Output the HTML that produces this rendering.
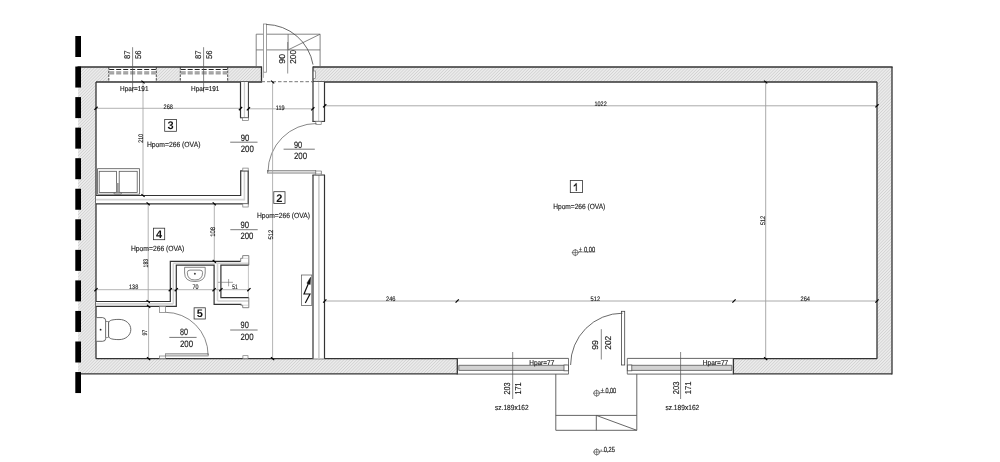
<!DOCTYPE html>
<html><head><meta charset="utf-8"><style>
html,body{margin:0;padding:0;background:#fff;width:1000px;height:462px;overflow:hidden}
svg{display:block;filter:grayscale(1)}
text{font-family:"Liberation Sans",sans-serif;text-rendering:geometricPrecision}
</style></head><body>
<svg width="1000" height="462" viewBox="0 0 1000 462">
<defs>
<pattern id="hatch" width="2.2" height="2.2" patternUnits="userSpaceOnUse" patternTransform="rotate(45)">
<rect width="2.2" height="2.2" fill="#ebebeb"/>
<line x1="0" y1="0" x2="0" y2="2.2" stroke="#bdbdbd" stroke-width="0.8"/>
</pattern>
</defs>
<rect width="1000" height="462" fill="#fff"/>
<rect x="78" y="67" width="183.5" height="15" fill="url(#hatch)"/>
<rect x="313" y="67" width="579" height="15" fill="url(#hatch)"/>
<rect x="78" y="67" width="18" height="306.8" fill="url(#hatch)"/>
<rect x="877" y="67" width="15" height="306.8" fill="url(#hatch)"/>
<rect x="78" y="358.7" width="379.3" height="15.1" fill="url(#hatch)"/>
<rect x="733.4" y="358.7" width="158.6" height="15.1" fill="url(#hatch)"/>
<rect x="108.8" y="67.6" width="47.5" height="13.8" fill="#fff"/>
<line x1="108.8" y1="67" x2="108.8" y2="82" stroke="#333" stroke-width="0.9" stroke-dasharray="2.5 1.2"/>
<line x1="156.3" y1="67" x2="156.3" y2="82" stroke="#333" stroke-width="0.9" stroke-dasharray="2.5 1.2"/>
<line x1="109.2" y1="69.5" x2="155.9" y2="69.5" stroke="#222" stroke-width="1.0" stroke-dasharray="5 2"/>
<line x1="109.2" y1="72.9" x2="155.9" y2="72.9" stroke="#b0b0b0" stroke-width="2.4" stroke-dasharray="5 2"/>
<line x1="109.2" y1="71.7" x2="155.9" y2="71.7" stroke="#777" stroke-width="0.6" stroke-dasharray="5 2"/>
<line x1="109.2" y1="74.1" x2="155.9" y2="74.1" stroke="#777" stroke-width="0.6" stroke-dasharray="5 2"/>
<rect x="180.3" y="67.6" width="47.4" height="13.8" fill="#fff"/>
<line x1="180.3" y1="67" x2="180.3" y2="82" stroke="#333" stroke-width="0.9" stroke-dasharray="2.5 1.2"/>
<line x1="227.7" y1="67" x2="227.7" y2="82" stroke="#333" stroke-width="0.9" stroke-dasharray="2.5 1.2"/>
<line x1="180.70000000000002" y1="69.5" x2="227.29999999999998" y2="69.5" stroke="#222" stroke-width="1.0" stroke-dasharray="5 2"/>
<line x1="180.70000000000002" y1="72.9" x2="227.29999999999998" y2="72.9" stroke="#b0b0b0" stroke-width="2.4" stroke-dasharray="5 2"/>
<line x1="180.70000000000002" y1="71.7" x2="227.29999999999998" y2="71.7" stroke="#777" stroke-width="0.6" stroke-dasharray="5 2"/>
<line x1="180.70000000000002" y1="74.1" x2="227.29999999999998" y2="74.1" stroke="#777" stroke-width="0.6" stroke-dasharray="5 2"/>
<line x1="77.5" y1="67" x2="261.5" y2="67" stroke="#333" stroke-width="1.3" />
<line x1="96" y1="82" x2="261.5" y2="82" stroke="#333" stroke-width="1.3" />
<line x1="261.5" y1="66.4" x2="261.5" y2="82.6" stroke="#333" stroke-width="1.3" />
<line x1="313" y1="67" x2="892.6" y2="67" stroke="#333" stroke-width="1.3" />
<line x1="313" y1="82" x2="877" y2="82" stroke="#333" stroke-width="1.3" />
<line x1="313" y1="66.4" x2="313" y2="82.6" stroke="#333" stroke-width="1.3" />
<line x1="96" y1="82" x2="96" y2="358.7" stroke="#333" stroke-width="1.3" />
<line x1="892" y1="67" x2="892" y2="374.4" stroke="#333" stroke-width="1.3" />
<line x1="877" y1="82" x2="877" y2="358.7" stroke="#333" stroke-width="1.3" />
<line x1="96" y1="358.7" x2="457.3" y2="358.7" stroke="#333" stroke-width="1.3" />
<line x1="81" y1="373.8" x2="457.3" y2="373.8" stroke="#333" stroke-width="1.3" />
<line x1="457.3" y1="358.1" x2="457.3" y2="374.4" stroke="#333" stroke-width="1.3" />
<line x1="733.4" y1="358.7" x2="877" y2="358.7" stroke="#333" stroke-width="1.3" />
<line x1="733.4" y1="373.8" x2="892" y2="373.8" stroke="#333" stroke-width="1.3" />
<line x1="733.4" y1="358.1" x2="733.4" y2="374.4" stroke="#333" stroke-width="1.3" />
<rect x="75.3" y="36.0" width="5.7" height="21.0" fill="#000"/>
<rect x="75.3" y="66.55" width="5.7" height="21.0" fill="#000"/>
<rect x="75.3" y="97.1" width="5.7" height="21.0" fill="#000"/>
<rect x="75.3" y="127.65" width="5.7" height="21.0" fill="#000"/>
<rect x="75.3" y="158.2" width="5.7" height="21.0" fill="#000"/>
<rect x="75.3" y="188.75" width="5.7" height="21.0" fill="#000"/>
<rect x="75.3" y="219.3" width="5.7" height="21.0" fill="#000"/>
<rect x="75.3" y="249.85" width="5.7" height="21.0" fill="#000"/>
<rect x="75.3" y="280.4" width="5.7" height="21.0" fill="#000"/>
<rect x="75.3" y="310.95" width="5.7" height="21.0" fill="#000"/>
<rect x="75.3" y="341.5" width="5.7" height="21.0" fill="#000"/>
<rect x="75.3" y="372.05" width="5.7" height="21.0" fill="#000"/>
<line x1="457.3" y1="358.4" x2="568.5" y2="358.4" stroke="#555" stroke-width="0.9" />
<line x1="457.3" y1="374.1" x2="568.5" y2="374.1" stroke="#555" stroke-width="0.9" />
<rect x="458.8" y="365.3" width="108.2" height="5.1" fill="#d2d2d2"/>
<line x1="458.8" y1="365.3" x2="567.0" y2="365.3" stroke="#555" stroke-width="0.8" />
<line x1="458.8" y1="370.4" x2="567.0" y2="370.4" stroke="#555" stroke-width="0.8" />
<rect x="564.0" y="365" width="4.5" height="5.8" fill="#fff" stroke="#555" stroke-width="0.8" />
<line x1="458.8" y1="365.3" x2="458.8" y2="370.4" stroke="#555" stroke-width="0.8" />
<line x1="568.5" y1="358.4" x2="568.5" y2="374.1" stroke="#555" stroke-width="0.8" />
<line x1="627.3" y1="358.4" x2="733.4" y2="358.4" stroke="#555" stroke-width="0.9" />
<line x1="627.3" y1="374.1" x2="733.4" y2="374.1" stroke="#555" stroke-width="0.9" />
<rect x="628.8" y="365.3" width="103.1" height="5.1" fill="#d2d2d2"/>
<line x1="628.8" y1="365.3" x2="731.9" y2="365.3" stroke="#555" stroke-width="0.8" />
<line x1="628.8" y1="370.4" x2="731.9" y2="370.4" stroke="#555" stroke-width="0.8" />
<rect x="627.3" y="365" width="4.5" height="5.8" fill="#fff" stroke="#555" stroke-width="0.8" />
<line x1="731.9" y1="365.3" x2="731.9" y2="370.4" stroke="#555" stroke-width="0.8" />
<line x1="627.3" y1="358.4" x2="627.3" y2="374.1" stroke="#555" stroke-width="0.8" />
<rect x="621.4" y="311.3" width="3.3" height="53.7" fill="#fff" stroke="#444" stroke-width="0.8" />
<path d="M 622.5 313.2 A 52 52 0 0 0 570.6 365" stroke="#444" stroke-width="0.8" fill="none" />
<line x1="555.8" y1="374.1" x2="555.8" y2="430.3" stroke="#555" stroke-width="0.9" />
<line x1="636.8" y1="374.1" x2="636.8" y2="430.3" stroke="#555" stroke-width="0.9" />
<line x1="555.8" y1="415.4" x2="636.8" y2="415.4" stroke="#555" stroke-width="0.9" />
<line x1="555.8" y1="430.3" x2="636.8" y2="430.3" stroke="#555" stroke-width="0.9" />
<line x1="596.3" y1="415.4" x2="596.3" y2="430.3" stroke="#555" stroke-width="0.9" />
<line x1="596.3" y1="415.4" x2="636.8" y2="430.3" stroke="#555" stroke-width="0.9" />
<path d="M 256.2 66.4 L 256.2 34.2 L 320.1 34.2 L 320.1 66.4" stroke="#666" stroke-width="0.8" fill="none" />
<line x1="256.2" y1="49.9" x2="320.1" y2="49.9" stroke="#666" stroke-width="0.8" />
<line x1="288.1" y1="34.2" x2="288.1" y2="49.9" stroke="#666" stroke-width="0.8" />
<line x1="288.1" y1="49.9" x2="320.1" y2="34.2" stroke="#666" stroke-width="0.8" />
<rect x="263.2" y="24" width="3.4" height="48.5" fill="#fff"/>
<rect x="263.4" y="24" width="3.0" height="48.2" fill="none" stroke="#888" stroke-width="0.8" />
<line x1="263.4" y1="72.2" x2="263.4" y2="77.8" stroke="#999" stroke-width="0.8" />
<path d="M 266.2 24.4 A 48.5 48.5 0 0 1 313 64.6" stroke="#444" stroke-width="0.8" fill="none" />
<line x1="261.5" y1="81.7" x2="313" y2="81.7" stroke="#777" stroke-width="1.0" stroke-dasharray="3.5 2"/>
<rect x="313.3" y="71" width="2.4" height="7.3" fill="#fff" stroke="#666" stroke-width="0.6" />
<line x1="287.7" y1="42" x2="287.7" y2="73.5" stroke="#666" stroke-width="0.7" />
<rect x="240.5" y="82" width="7.9" height="35.8" fill="#fff"/>
<line x1="244.45" y1="82" x2="244.45" y2="117.8" stroke="#cdcdcd" stroke-width="1.3" />
<line x1="240.5" y1="82" x2="240.5" y2="117.8" stroke="#333" stroke-width="1.2" />
<line x1="248.4" y1="82" x2="248.4" y2="117.8" stroke="#333" stroke-width="1.0" />
<line x1="240.0" y1="117.8" x2="248.9" y2="117.8" stroke="#333" stroke-width="1.0" />
<rect x="242.5" y="117.8" width="5.9" height="2.8" fill="#fff" stroke="#777" stroke-width="0.7" />
<rect x="96" y="195.5" width="152.2" height="8.3" fill="#fff"/>
<rect x="240.7" y="170.8" width="7.5" height="33.0" fill="#fff"/>
<line x1="96" y1="199.6" x2="244.4" y2="199.6" stroke="#d4d4d4" stroke-width="1.6" />
<line x1="244.4" y1="170.8" x2="244.4" y2="200.4" stroke="#d4d4d4" stroke-width="1.6" />
<path d="M 96 195.5 L 240.7 195.5 L 240.7 170.8 L 248.2 170.8 L 248.2 203.8 L 96 203.8" stroke="#333" stroke-width="1.2" fill="none" />
<rect x="242.8" y="168.1" width="5.4" height="2.7" fill="#fff" stroke="#777" stroke-width="0.7" />
<rect x="242.8" y="203.8" width="5.4" height="3.2" fill="#fff" stroke="#777" stroke-width="0.7" />
<rect x="312.7" y="82" width="11.8" height="39.4" fill="#fff"/>
<line x1="318.7" y1="82" x2="318.7" y2="121.4" stroke="#c8c8c8" stroke-width="1.0" />
<line x1="313" y1="82" x2="313" y2="121.4" stroke="#333" stroke-width="1.2" />
<line x1="324.5" y1="82" x2="324.5" y2="121.4" stroke="#333" stroke-width="1.2" />
<line x1="312.4" y1="121.4" x2="325" y2="121.4" stroke="#333" stroke-width="1.0" />
<rect x="315.8" y="121.4" width="5.4" height="3.0" fill="#fff" stroke="#777" stroke-width="0.7" />
<rect x="312.7" y="175" width="11.8" height="183.7" fill="#fff"/>
<line x1="318.9" y1="175" x2="318.9" y2="358.7" stroke="#c8c8c8" stroke-width="1.5" />
<line x1="313" y1="175" x2="313" y2="358.7" stroke="#333" stroke-width="1.2" />
<line x1="324.5" y1="175" x2="324.5" y2="358.7" stroke="#333" stroke-width="1.2" />
<line x1="312.4" y1="175" x2="325" y2="175" stroke="#333" stroke-width="1.0" />
<rect x="315.8" y="171.5" width="5.4" height="3.5" fill="#fff" stroke="#777" stroke-width="0.7" />
<rect x="96" y="301.5" width="80.3" height="4.8" fill="#fff"/>
<rect x="170.3" y="261.4" width="6.0" height="44.9" fill="#fff"/>
<rect x="170.3" y="261.4" width="78.6" height="3.8" fill="#fff"/>
<rect x="214.1" y="265" width="6.8" height="39.4" fill="#fff"/>
<rect x="214.1" y="297.6" width="34.8" height="6.8" fill="#fff"/>
<line x1="96" y1="303.9" x2="173.3" y2="303.9" stroke="#d4d4d4" stroke-width="1.6" />
<line x1="173.3" y1="263.3" x2="173.3" y2="303.9" stroke="#d4d4d4" stroke-width="1.6" />
<line x1="173.3" y1="263.3" x2="248.9" y2="263.3" stroke="#d4d4d4" stroke-width="1.6" />
<line x1="217.5" y1="263.3" x2="217.5" y2="301" stroke="#d4d4d4" stroke-width="1.6" />
<line x1="217.5" y1="301" x2="248.5" y2="301" stroke="#d4d4d4" stroke-width="1.6" />
<path d="M 96 301.5 L 170.3 301.5 L 170.3 261.4 L 240.6 261.4" stroke="#333" stroke-width="1.2" fill="none" />
<path d="M 96 306.3 L 176.3 306.3 L 176.3 265.2 L 214.1 265.2 L 214.1 304.4 L 241.4 304.4" stroke="#333" stroke-width="1.2" fill="none" />
<path d="M 248.9 265.2 L 220.9 265.2 L 220.9 297.6 L 248.9 297.6" stroke="#333" stroke-width="1.2" fill="none" />
<line x1="248.4" y1="265.2" x2="248.4" y2="297.6" stroke="#aaa" stroke-width="0.7" />
<path d="M 240.7 261.4 L 240.7 258.3 L 242.7 258.3 L 242.7 255.6 L 248.8 255.6 L 248.8 265.2" stroke="#666" stroke-width="0.8" fill="none" />
<path d="M 240.7 304.4 L 240.7 305.2 L 242.7 305.2 L 242.7 307.7 L 248.8 307.7 L 248.8 297.6" stroke="#666" stroke-width="0.8" fill="none" />
<line x1="242.7" y1="258.3" x2="248.8" y2="258.3" stroke="#aaa" stroke-width="0.5" />
<line x1="242.7" y1="305.2" x2="248.8" y2="305.2" stroke="#aaa" stroke-width="0.5" />
<rect x="242.9" y="355.7" width="5.1" height="2.9" fill="#fff" stroke="#777" stroke-width="0.7" />
<rect x="159.6" y="306.3" width="5.8" height="6.1" fill="#fff" stroke="#777" stroke-width="0.7" />
<rect x="159.6" y="356" width="5.8" height="2.6" fill="#fff" stroke="#777" stroke-width="0.7" />
<rect x="165.4" y="353.8" width="42.8" height="2.2" fill="#d8d8d8" stroke="#666" stroke-width="0.6" />
<path d="M 165.4 312.3 A 42.7 42.7 0 0 1 208.1 355" stroke="#555" stroke-width="0.7" fill="none" />
<rect x="267.4" y="170.6" width="48.4" height="2.5" fill="#d8d8d8" stroke="#666" stroke-width="0.6" />
<rect x="315.8" y="171" width="5.4" height="3" fill="#fff" stroke="#777" stroke-width="0.7" />
<path d="M 316.5 123.5 A 48.5 48.5 0 0 0 268 172" stroke="#555" stroke-width="0.7" fill="none" />
<rect x="97.6" y="168.7" width="41.8" height="25.5" fill="#fff" stroke="#555" stroke-width="0.8" />
<rect x="99.2" y="171.3" width="17.2" height="21.2" fill="none" stroke="#555" stroke-width="0.8" />
<rect x="119.2" y="171.3" width="18.0" height="21.2" fill="none" stroke="#555" stroke-width="0.8" />
<rect x="116.6" y="183" width="2.2" height="9.6" fill="#9a9a9a"/>
<rect x="114" y="192.4" width="7.4" height="2.0" fill="#bbb" stroke="#444" stroke-width="0.5" rx="1"/>
<path d="M 96.6 317.6 L 102.6 317.6 Q 105.8 317.8 105.8 321 L 105.8 338.2 Q 105.8 341.3 102.6 341.3 L 96.6 341.3" stroke="#444" stroke-width="0.8" fill="#fff" />
<rect x="105.8" y="321.6" width="2.8" height="16.0" fill="#fff" stroke="#555" stroke-width="0.6" />
<path d="M 108.6 323 C 108.6 320.2 113 319.4 119 319.4 C 126 319.4 130.8 324 130.8 329.5 C 130.8 335 126 339.6 119 339.6 C 113 339.6 108.6 338.8 108.6 336 Z" stroke="#444" stroke-width="0.8" fill="#fff" />
<circle cx="100.6" cy="329.7" r="0.9" fill="#222"/>
<path d="M 184.6 267.3 L 205.2 267.3 L 205.2 273 Q 205.2 281.5 194.9 281.5 Q 184.6 281.5 184.6 273 Z" stroke="#555" stroke-width="0.7" fill="#fff" />
<path d="M 187.3 272.6 Q 187.3 270.1 190 270.1 L 200 270.1 Q 202.6 270.1 202.6 272.6 Q 202.6 280 194.95 280 Q 187.3 280 187.3 272.6 Z" stroke="#555" stroke-width="0.7" fill="none" />
<circle cx="194.9" cy="273.7" r="1.0" fill="#444"/>
<line x1="217.9" y1="282.3" x2="233" y2="282.3" stroke="#666" stroke-width="0.6" />
<line x1="228.6" y1="279" x2="228.6" y2="286.3" stroke="#666" stroke-width="0.6" />
<rect x="301.4" y="275" width="10.4" height="30.5" fill="#fff" stroke="#555" stroke-width="0.7" />
<path d="M 305.3 303 L 310 294 L 304 294 L 308.6 283" stroke="#111" stroke-width="1.2" fill="none" />
<path d="M 310.6 277.3 L 306.9 283.2 L 310.2 284.5 Z" stroke="#111" stroke-width="0.5" fill="#111" />
<line x1="96" y1="108.3" x2="240.7" y2="108.3" stroke="#a0a0a0" stroke-width="0.8" />
<line x1="248.4" y1="108.8" x2="312.8" y2="108.8" stroke="#a0a0a0" stroke-width="0.8" />
<line x1="324.5" y1="105.8" x2="877" y2="105.8" stroke="#a0a0a0" stroke-width="0.9" />
<line x1="96" y1="289.7" x2="248.9" y2="289.7" stroke="#a0a0a0" stroke-width="0.8" />
<line x1="324.5" y1="301" x2="877" y2="301" stroke="#a0a0a0" stroke-width="0.9" />
<line x1="272.6" y1="82" x2="272.6" y2="358.7" stroke="#a0a0a0" stroke-width="0.8" />
<line x1="765.7" y1="82" x2="765.7" y2="358.7" stroke="#a0a0a0" stroke-width="0.9" />
<line x1="143" y1="82" x2="143" y2="195.5" stroke="#a0a0a0" stroke-width="0.8" />
<line x1="214.3" y1="203.8" x2="214.3" y2="261.4" stroke="#a0a0a0" stroke-width="0.8" />
<line x1="148.2" y1="203.8" x2="148.2" y2="301.5" stroke="#a0a0a0" stroke-width="0.8" />
<line x1="148.6" y1="306.3" x2="148.6" y2="358.7" stroke="#a0a0a0" stroke-width="0.8" />
<line x1="132.6" y1="47.2" x2="132.6" y2="92.4" stroke="#555" stroke-width="0.7" />
<line x1="203.6" y1="47.2" x2="203.6" y2="92.4" stroke="#555" stroke-width="0.7" />
<line x1="601.3" y1="329.2" x2="601.3" y2="359.5" stroke="#555" stroke-width="0.7" />
<line x1="512.7" y1="352" x2="512.7" y2="399" stroke="#555" stroke-width="0.7" />
<line x1="680.6" y1="352" x2="680.6" y2="399" stroke="#555" stroke-width="0.7" />
<line x1="94.4" y1="109.89999999999999" x2="97.6" y2="106.7" stroke="#000" stroke-width="1.25"/>
<line x1="238.9" y1="110.19999999999999" x2="242.1" y2="107.0" stroke="#000" stroke-width="1.25"/>
<line x1="246.8" y1="110.39999999999999" x2="250.0" y2="107.2" stroke="#000" stroke-width="1.25"/>
<line x1="311.2" y1="110.39999999999999" x2="314.40000000000003" y2="107.2" stroke="#000" stroke-width="1.25"/>
<line x1="323.09999999999997" y1="107.39999999999999" x2="326.3" y2="104.2" stroke="#000" stroke-width="1.25"/>
<line x1="875.4" y1="107.39999999999999" x2="878.6" y2="104.2" stroke="#000" stroke-width="1.25"/>
<line x1="94.4" y1="291.3" x2="97.6" y2="288.09999999999997" stroke="#000" stroke-width="1.25"/>
<line x1="168.70000000000002" y1="291.3" x2="171.9" y2="288.09999999999997" stroke="#000" stroke-width="1.25"/>
<line x1="174.70000000000002" y1="291.3" x2="177.9" y2="288.09999999999997" stroke="#000" stroke-width="1.25"/>
<line x1="212.5" y1="291.3" x2="215.7" y2="288.09999999999997" stroke="#000" stroke-width="1.25"/>
<line x1="219.3" y1="291.3" x2="222.5" y2="288.09999999999997" stroke="#000" stroke-width="1.25"/>
<line x1="247.3" y1="291.3" x2="250.5" y2="288.09999999999997" stroke="#000" stroke-width="1.25"/>
<line x1="323.2" y1="302.6" x2="326.40000000000003" y2="299.4" stroke="#000" stroke-width="1.25"/>
<line x1="455.59999999999997" y1="302.6" x2="458.8" y2="299.4" stroke="#000" stroke-width="1.25"/>
<line x1="732.4" y1="302.6" x2="735.6" y2="299.4" stroke="#000" stroke-width="1.25"/>
<line x1="875.4" y1="302.6" x2="878.6" y2="299.4" stroke="#000" stroke-width="1.25"/>
<line x1="764.1" y1="80.6" x2="767.3000000000001" y2="83.4" stroke="#000" stroke-width="1.25"/>
<line x1="141.4" y1="80.6" x2="144.6" y2="83.4" stroke="#000" stroke-width="1.25"/>
<line x1="271.0" y1="80.6" x2="274.20000000000005" y2="83.4" stroke="#000" stroke-width="1.25"/>
<line x1="271.0" y1="357.3" x2="274.20000000000005" y2="360.09999999999997" stroke="#000" stroke-width="1.25"/>
<line x1="764.1" y1="357.3" x2="767.3000000000001" y2="360.09999999999997" stroke="#000" stroke-width="1.25"/>
<line x1="141.4" y1="194.1" x2="144.6" y2="196.9" stroke="#000" stroke-width="1.25"/>
<line x1="146.6" y1="202.4" x2="149.79999999999998" y2="205.20000000000002" stroke="#000" stroke-width="1.25"/>
<line x1="212.70000000000002" y1="202.4" x2="215.9" y2="205.20000000000002" stroke="#000" stroke-width="1.25"/>
<line x1="212.70000000000002" y1="260.0" x2="215.9" y2="262.79999999999995" stroke="#000" stroke-width="1.25"/>
<line x1="146.6" y1="300.1" x2="149.79999999999998" y2="302.9" stroke="#000" stroke-width="1.25"/>
<line x1="147.0" y1="304.90000000000003" x2="150.2" y2="307.7" stroke="#000" stroke-width="1.25"/>
<line x1="147.0" y1="357.3" x2="150.2" y2="360.09999999999997" stroke="#000" stroke-width="1.25"/>
<rect x="570.3" y="180.5" width="12.3" height="12.1" fill="#fff" stroke="#333" stroke-width="0.8" />
<rect x="273.8" y="191.7" width="11.2" height="11.8" fill="#fff" stroke="#333" stroke-width="0.8" />
<text x="279.4" y="201.5" font-size="11" font-weight="bold" fill="#111" text-anchor="middle">2</text>
<rect x="164.7" y="119.4" width="11.9" height="11.9" fill="#fff" stroke="#333" stroke-width="0.8" />
<text x="170.65" y="129.25" font-size="11" font-weight="bold" fill="#111" text-anchor="middle">3</text>
<rect x="153.4" y="228.2" width="11.3" height="11.5" fill="#fff" stroke="#333" stroke-width="0.8" />
<text x="159.05" y="237.85" font-size="11" font-weight="bold" fill="#111" text-anchor="middle">4</text>
<rect x="194.1" y="307.8" width="11.2" height="11.2" fill="#fff" stroke="#333" stroke-width="0.8" />
<text x="199.7" y="317.3" font-size="11" font-weight="bold" fill="#111" text-anchor="middle">5</text>
<path d="M 576.65 191 L 576.65 183.2 L 575.9 183.2 Q 575.2 184.8 573.8 185.4 L 573.8 186.4 Q 575 186.1 575.9 185.3 L 575.9 191 Z" stroke="#111" stroke-width="0.2" fill="#111" />
<text transform="matrix(0.8775,0,0,1,553.3,209.2)" font-size="7.5" fill="#1a1a1a" stroke="#1a1a1a" stroke-width="0.15" font-weight="normal">Hpom=266 (OVA)</text>
<text transform="matrix(0.8944,0,0,1,256.9,217.5)" font-size="7.5" fill="#1a1a1a" stroke="#1a1a1a" stroke-width="0.15" font-weight="normal">Hpom=266 (OVA)</text>
<text transform="matrix(0.9028,0,0,1,146.9,147.0)" font-size="7.5" fill="#1a1a1a" stroke="#1a1a1a" stroke-width="0.15" font-weight="normal">Hpom=266 (OVA)</text>
<text transform="matrix(0.8977,0,0,1,131,251.0)" font-size="7.5" fill="#1a1a1a" stroke="#1a1a1a" stroke-width="0.15" font-weight="normal">Hpom=266 (OVA)</text>
<text transform="matrix(0.9179,0,0,1,120.1,90.52)" font-size="7" fill="#1a1a1a" stroke="#1a1a1a" stroke-width="0.15" font-weight="normal">Hpar=191</text>
<text transform="matrix(0.9179,0,0,1,191,90.52)" font-size="7" fill="#1a1a1a" stroke="#1a1a1a" stroke-width="0.15" font-weight="normal">Hpar=191</text>
<text transform="matrix(0.9280,0,0,1,529.2,364.82)" font-size="7" fill="#1a1a1a" stroke="#1a1a1a" stroke-width="0.15" font-weight="normal">Hpar=77</text>
<text transform="matrix(0.9391,0,0,1,702.8,365.02)" font-size="7" fill="#1a1a1a" stroke="#1a1a1a" stroke-width="0.15" font-weight="normal">Hpar=77</text>
<text transform="matrix(0.8314,0,0,1,240.7,140.55)" font-size="9.3" fill="#1a1a1a" stroke="#1a1a1a" stroke-width="0.15" font-weight="normal">90</text>
<line x1="230.2" y1="142.2" x2="257.5" y2="142.2" stroke="#555" stroke-width="0.8" />
<text transform="matrix(0.8442,0,0,1,240.7,152.35)" font-size="9.3" fill="#1a1a1a" stroke="#1a1a1a" stroke-width="0.15" font-weight="normal">200</text>
<text transform="matrix(0.7927,0,0,1,293.9,147.55)" font-size="9.3" fill="#1a1a1a" stroke="#1a1a1a" stroke-width="0.15" font-weight="normal">90</text>
<line x1="283.6" y1="149.2" x2="314.8" y2="149.2" stroke="#555" stroke-width="0.8" />
<text transform="matrix(0.8442,0,0,1,293.9,158.65)" font-size="9.3" fill="#1a1a1a" stroke="#1a1a1a" stroke-width="0.15" font-weight="normal">200</text>
<text transform="matrix(0.8314,0,0,1,240.4,227.85)" font-size="9.3" fill="#1a1a1a" stroke="#1a1a1a" stroke-width="0.15" font-weight="normal">90</text>
<line x1="230.3" y1="229.7" x2="257.7" y2="229.7" stroke="#555" stroke-width="0.8" />
<text transform="matrix(0.8378,0,0,1,240.4,239.15)" font-size="9.3" fill="#1a1a1a" stroke="#1a1a1a" stroke-width="0.15" font-weight="normal">200</text>
<text transform="matrix(0.8024,0,0,1,240.5,327.85)" font-size="9.3" fill="#1a1a1a" stroke="#1a1a1a" stroke-width="0.15" font-weight="normal">90</text>
<line x1="230.2" y1="330" x2="257.6" y2="330" stroke="#555" stroke-width="0.8" />
<text transform="matrix(0.8442,0,0,1,240.5,339.75)" font-size="9.3" fill="#1a1a1a" stroke="#1a1a1a" stroke-width="0.15" font-weight="normal">200</text>
<text transform="matrix(0.7734,0,0,1,179.9,335.35)" font-size="9.3" fill="#1a1a1a" stroke="#1a1a1a" stroke-width="0.15" font-weight="normal">80</text>
<line x1="169.3" y1="337.4" x2="196.6" y2="337.4" stroke="#555" stroke-width="0.8" />
<text transform="matrix(0.8442,0,0,1,179.9,346.95)" font-size="9.3" fill="#1a1a1a" stroke="#1a1a1a" stroke-width="0.15" font-weight="normal">200</text>
<g transform="translate(126.7,59) rotate(-90)"><text transform="matrix(0.9319,0,0,1,0,2.95)" font-size="8.2" fill="#1a1a1a" stroke="#1a1a1a" stroke-width="0.15">87</text></g>
<g transform="translate(138.2,59) rotate(-90)"><text transform="matrix(0.9538,0,0,1,0,2.95)" font-size="8.2" fill="#1a1a1a" stroke="#1a1a1a" stroke-width="0.15">56</text></g>
<g transform="translate(197.8,59) rotate(-90)"><text transform="matrix(0.9319,0,0,1,0,2.95)" font-size="8.2" fill="#1a1a1a" stroke="#1a1a1a" stroke-width="0.15">87</text></g>
<g transform="translate(208.7,59) rotate(-90)"><text transform="matrix(0.9538,0,0,1,0,2.95)" font-size="8.2" fill="#1a1a1a" stroke="#1a1a1a" stroke-width="0.15">56</text></g>
<g transform="translate(281.7,63.7) rotate(-90)"><text transform="matrix(1.0140,0,0,1,0,3.1)" font-size="8.6" fill="#1a1a1a" stroke="#1a1a1a" stroke-width="0.15">90</text></g>
<g transform="translate(293,63.7) rotate(-90)"><text transform="matrix(0.9548,0,0,1,0,3.1)" font-size="8.6" fill="#1a1a1a" stroke="#1a1a1a" stroke-width="0.15">200</text></g>
<g transform="translate(594.4,349.8) rotate(-90)"><text transform="matrix(1.0245,0,0,1,0,3.1)" font-size="8.6" fill="#1a1a1a" stroke="#1a1a1a" stroke-width="0.15">99</text></g>
<g transform="translate(607.4,349.8) rotate(-90)"><text transform="matrix(0.9827,0,0,1,0,3.1)" font-size="8.6" fill="#1a1a1a" stroke="#1a1a1a" stroke-width="0.15">202</text></g>
<g transform="translate(506.7,394.5) rotate(-90)"><text transform="matrix(0.8433,0,0,1,0,3.1)" font-size="8.6" fill="#1a1a1a" stroke="#1a1a1a" stroke-width="0.15">203</text></g>
<g transform="translate(518.3,394.5) rotate(-90)"><text transform="matrix(0.8433,0,0,1,0,3.1)" font-size="8.6" fill="#1a1a1a" stroke="#1a1a1a" stroke-width="0.15">171</text></g>
<g transform="translate(675.4,394.3) rotate(-90)"><text transform="matrix(0.8851,0,0,1,0,3.1)" font-size="8.6" fill="#1a1a1a" stroke="#1a1a1a" stroke-width="0.15">203</text></g>
<g transform="translate(687.5,394.3) rotate(-90)"><text transform="matrix(0.8851,0,0,1,0,3.1)" font-size="8.6" fill="#1a1a1a" stroke="#1a1a1a" stroke-width="0.15">171</text></g>
<g transform="translate(140.2,142.8) rotate(-90)"><text transform="matrix(0.7991,0,0,1,0,2.38)" font-size="6.6" fill="#1a1a1a" stroke="#1a1a1a" stroke-width="0.15">210</text></g>
<g transform="translate(212.3,236.8) rotate(-90)"><text transform="matrix(0.8899,0,0,1,0,2.38)" font-size="6.6" fill="#1a1a1a" stroke="#1a1a1a" stroke-width="0.15">108</text></g>
<g transform="translate(145.3,267.4) rotate(-90)"><text transform="matrix(0.7628,0,0,1,0,2.38)" font-size="6.6" fill="#1a1a1a" stroke="#1a1a1a" stroke-width="0.15">183</text></g>
<g transform="translate(144.3,335.6) rotate(-90)"><text transform="matrix(0.7901,0,0,1,0,2.38)" font-size="6.6" fill="#1a1a1a" stroke="#1a1a1a" stroke-width="0.15">97</text></g>
<g transform="translate(271,239.6) rotate(-90)"><text transform="matrix(0.8990,0,0,1,0,2.38)" font-size="6.6" fill="#1a1a1a" stroke="#1a1a1a" stroke-width="0.15">512</text></g>
<g transform="translate(762.7,225.1) rotate(-90)"><text transform="matrix(0.8264,0,0,1,0,2.38)" font-size="6.6" fill="#1a1a1a" stroke="#1a1a1a" stroke-width="0.15">512</text></g>
<text transform="matrix(0.8445,0,0,1,163.6,108.78)" font-size="6.6" fill="#1a1a1a" stroke="#1a1a1a" stroke-width="0.15" font-weight="normal">268</text>
<text transform="matrix(0.8363,0,0,1,275.8,109.58)" font-size="6.6" fill="#1a1a1a" stroke="#1a1a1a" stroke-width="0.15" font-weight="normal">119</text>
<text transform="matrix(0.8309,0,0,1,594.5,106.28)" font-size="6.6" fill="#1a1a1a" stroke="#1a1a1a" stroke-width="0.15" font-weight="normal">1022</text>
<text transform="matrix(0.8355,0,0,1,129,288.78)" font-size="6.6" fill="#1a1a1a" stroke="#1a1a1a" stroke-width="0.15" font-weight="normal">138</text>
<text transform="matrix(0.8173,0,0,1,192.6,289.48)" font-size="6.6" fill="#1a1a1a" stroke="#1a1a1a" stroke-width="0.15" font-weight="normal">70</text>
<text transform="matrix(0.7219,0,0,1,232.3,289.38)" font-size="6.6" fill="#1a1a1a" stroke="#1a1a1a" stroke-width="0.15" font-weight="normal">51</text>
<text transform="matrix(0.8627,0,0,1,386,301.18)" font-size="6.6" fill="#1a1a1a" stroke="#1a1a1a" stroke-width="0.15" font-weight="normal">246</text>
<text transform="matrix(0.8627,0,0,1,590.6,301.28)" font-size="6.6" fill="#1a1a1a" stroke="#1a1a1a" stroke-width="0.15" font-weight="normal">512</text>
<text transform="matrix(0.8627,0,0,1,800.5,301.38)" font-size="6.6" fill="#1a1a1a" stroke="#1a1a1a" stroke-width="0.15" font-weight="normal">264</text>
<text transform="matrix(0.8904,0,0,1,495,409.86)" font-size="7.4" fill="#1a1a1a" stroke="#1a1a1a" stroke-width="0.15" font-weight="normal">sz.189x162</text>
<text transform="matrix(0.8957,0,0,1,665.4,409.86)" font-size="7.4" fill="#1a1a1a" stroke="#1a1a1a" stroke-width="0.15" font-weight="normal">sz.189x162</text>
<circle cx="575.3" cy="252.6" r="2.8" fill="none" stroke="#444" stroke-width="0.7"/>
<line x1="571.6999999999999" y1="252.6" x2="578.9" y2="252.6" stroke="#444" stroke-width="0.6" />
<line x1="575.3" y1="249.0" x2="575.3" y2="256.2" stroke="#444" stroke-width="0.6" />
<text transform="matrix(0.6894,0,0,1,579.1,252.06)" font-size="7.4" fill="#1a1a1a" stroke="#1a1a1a" stroke-width="0.15" font-weight="normal">±</text>
<text transform="matrix(0.7846,0,0,1,583.9,252.06)" font-size="7.4" fill="#1a1a1a" stroke="#1a1a1a" stroke-width="0.15" font-weight="normal">0,00</text>
<line x1="578.0999999999999" y1="252.0" x2="595.2" y2="252.0" stroke="#555" stroke-width="0.6" />
<circle cx="596.6" cy="393.2" r="2.8" fill="none" stroke="#444" stroke-width="0.7"/>
<line x1="593.0" y1="393.2" x2="600.2" y2="393.2" stroke="#444" stroke-width="0.6" />
<line x1="596.6" y1="389.59999999999997" x2="596.6" y2="396.8" stroke="#444" stroke-width="0.6" />
<text transform="matrix(0.7387,0,0,1,600.7,392.76)" font-size="7.4" fill="#1a1a1a" stroke="#1a1a1a" stroke-width="0.15" font-weight="normal">±</text>
<text transform="matrix(0.7429,0,0,1,605.4,392.76)" font-size="7.4" fill="#1a1a1a" stroke="#1a1a1a" stroke-width="0.15" font-weight="normal">0,00</text>
<line x1="599.4" y1="392.59999999999997" x2="616.1" y2="392.59999999999997" stroke="#555" stroke-width="0.6" />
<circle cx="596.7" cy="452" r="2.8" fill="none" stroke="#444" stroke-width="0.7"/>
<line x1="593.1" y1="452" x2="600.3000000000001" y2="452" stroke="#444" stroke-width="0.6" />
<line x1="596.7" y1="448.4" x2="596.7" y2="455.6" stroke="#444" stroke-width="0.6" />
<text transform="matrix(0.6493,0,0,1,600.6,451.76)" font-size="7.4" fill="#1a1a1a" stroke="#1a1a1a" stroke-width="0.15" font-weight="normal">-</text>
<text transform="matrix(0.7707,0,0,1,603.8,451.76)" font-size="7.4" fill="#1a1a1a" stroke="#1a1a1a" stroke-width="0.15" font-weight="normal">0,25</text>
<line x1="599.5" y1="451.4" x2="614.9" y2="451.4" stroke="#555" stroke-width="0.6" />
</svg>
</body></html>
